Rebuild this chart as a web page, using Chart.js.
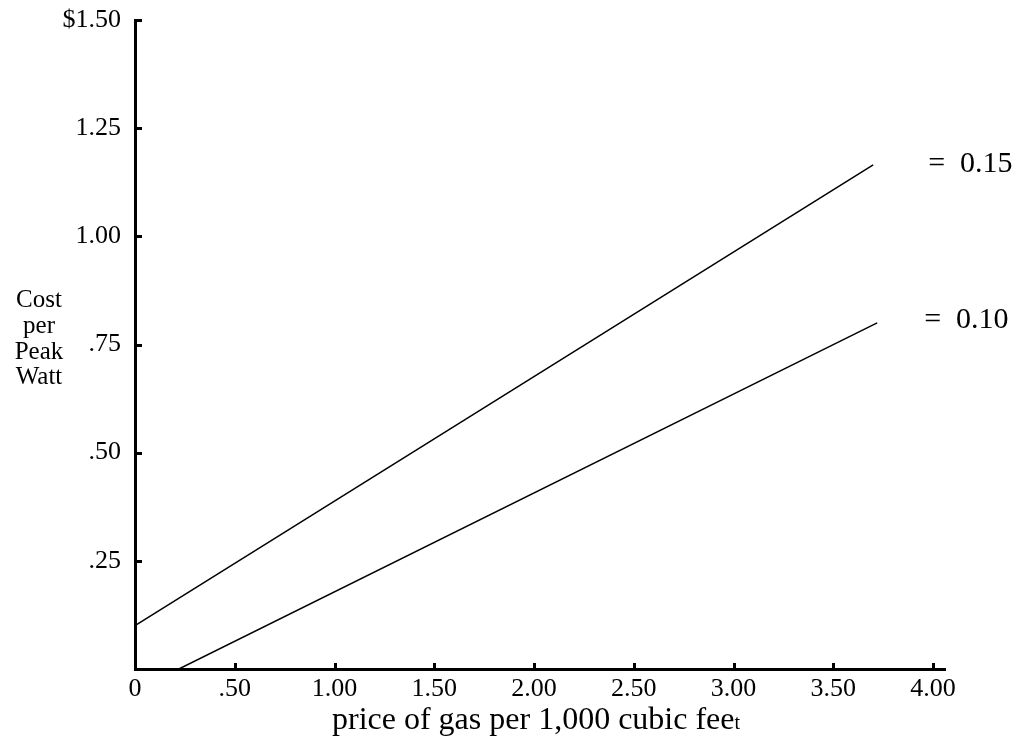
<!DOCTYPE html>
<html>
<head>
<meta charset="utf-8">
<script src="https://cdn.jsdelivr.net/npm/chart.js@4"></script>
<style>
  html, body { margin: 0; padding: 0; background: #ffffff; }
  #wrap { width: 1021px; height: 738px; }
</style>
</head>
<body>
<div id="wrap"><canvas id="c" width="1021" height="738"></canvas></div>
<script>
// ---- data ----
const xTickValues = [0, 0.5, 1, 1.5, 2, 2.5, 3, 3.5, 4];
const xTickLabels = ['0', '.50', '1.00', '1.50', '2.00', '2.50', '3.00', '3.50', '4.00'];
const yTickValues = [0.25, 0.5, 0.75, 1, 1.25, 1.5];
const yTickLabels = ['.25', '.50', '.75', '1.00', '1.25', '$1.50'];

const highX = [0, 3.70];
const highY = [0.10, 1.165];
const lowX = [0.22, 3.72];
const lowY = [0, 0.80];
const seriesLabels = ['=  0.15', '=  0.10'];

const yTitleLines = ['Cost', 'per', 'Peak', 'Watt'];
const xTitleMain = 'price of gas per 1,000 cubic fee';
const xTitleTail = 't';

const FONT = '"Liberation Serif", "DejaVu Serif", serif';

function toPoints(xs, ys) { return xs.map((x, i) => ({ x: x, y: ys[i] })); }

const decorPlugin = {
  id: 'decor',
  afterDraw(chart) {
    const ctx = chart.ctx;
    const xs = chart.scales.x, ys = chart.scales.y;
    const area = chart.chartArea;
    ctx.save();
    // inward tick marks
    ctx.strokeStyle = '#000';
    ctx.lineWidth = 3;
    xTickValues.forEach(v => {
      if (v === 0) return;
      const px = Math.round(xs.getPixelForValue(v)) + 0.5;
      ctx.beginPath();
      ctx.moveTo(px, area.bottom);
      ctx.lineTo(px, area.bottom - 6);
      ctx.stroke();
    });
    yTickValues.forEach(v => {
      const py = Math.round(ys.getPixelForValue(v)) + 0.5;
      ctx.beginPath();
      ctx.moveTo(area.left, py);
      ctx.lineTo(area.left + 7, py);
      ctx.stroke();
    });
    // y-axis title (stacked lines)
    ctx.fillStyle = '#000';
    ctx.font = '25px ' + FONT;
    ctx.textAlign = 'center';
    ctx.textBaseline = 'alphabetic';
    const yBase = [307, 333, 359, 384];
    yTitleLines.forEach((t, i) => ctx.fillText(t, 39, yBase[i]));
    // x-axis title with small trailing letter
    ctx.font = '32px ' + FONT;
    const w1 = ctx.measureText(xTitleMain).width;
    const x0 = 332;
    ctx.textAlign = 'left';
    ctx.fillText(xTitleMain, x0, 729);
    ctx.font = '20px ' + FONT;
    ctx.fillText(xTitleTail, x0 + w1, 729);
    // series end labels
    ctx.font = '30px ' + FONT;
    const hx = xs.getPixelForValue(highX[highX.length - 1]);
    const hy = ys.getPixelForValue(highY[highY.length - 1]);
    ctx.fillText(seriesLabels[0], hx + 55, hy + 7);
    const lx = xs.getPixelForValue(lowX[lowX.length - 1]);
    const ly = ys.getPixelForValue(lowY[lowY.length - 1]);
    ctx.fillText(seriesLabels[1], lx + 47, ly + 5);
    ctx.restore();
  }
};

new Chart(document.getElementById('c'), {
  type: 'scatter',
  data: {
    datasets: [
      { data: toPoints(highX, highY), showLine: true, borderColor: '#000', borderWidth: 1.5, pointRadius: 0, fill: false },
      { data: toPoints(lowX, lowY), showLine: true, borderColor: '#000', borderWidth: 1.5, pointRadius: 0, fill: false }
    ]
  },
  options: {
    responsive: false,
    animation: false,
    events: [],
    layout: { padding: { left: 0, right: 76, top: 20, bottom: 0 } },
    plugins: { legend: { display: false }, tooltip: { enabled: false }, title: { display: false } },
    scales: {
      x: {
        type: 'linear',
        min: 0,
        max: 4.06,
        grid: { display: false, drawTicks: false },
        border: { display: true, width: 3, color: '#000' },
        afterBuildTicks(scale) { scale.ticks = xTickValues.map(v => ({ value: v })); },
        afterFit(scale) { scale.height = 69; scale.paddingLeft = 0; scale.paddingRight = 0; },
        ticks: {
          color: '#000',
          padding: 5,
          maxRotation: 0,
          autoSkip: false,
          font: { family: FONT, size: 26 },
          callback: (v) => { const i = xTickValues.indexOf(v); return i >= 0 ? xTickLabels[i] : ''; }
        }
      },
      y: {
        type: 'linear',
        min: 0,
        max: 1.5,
        grid: { display: false, drawTicks: false },
        border: { display: true, width: 3, color: '#000' },
        afterBuildTicks(scale) { scale.ticks = yTickValues.map(v => ({ value: v })); },
        afterFit(scale) { scale.width = 135; scale.paddingTop = 0; scale.paddingBottom = 0; },
        ticks: {
          color: '#000',
          padding: 14,
          autoSkip: false,
          font: { family: FONT, size: 26 },
          callback: (v) => { const i = yTickValues.indexOf(v); return i >= 0 ? yTickLabels[i] : ''; }
        }
      }
    }
  },
  plugins: [decorPlugin]
});
</script>
</body>
</html>
